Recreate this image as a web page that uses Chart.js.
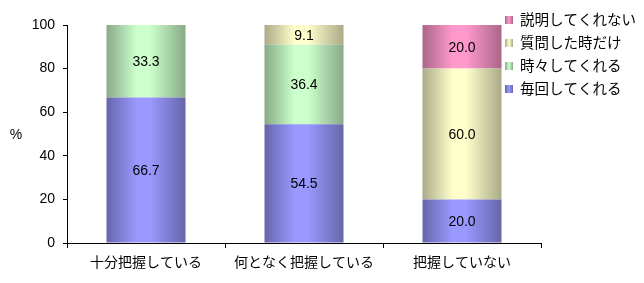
<!DOCTYPE html>
<html>
<head>
<meta charset="utf-8">
<script src="https://cdn.jsdelivr.net/npm/chart.js@4"></script>
<style>
  html, body { margin: 0; padding: 0; background: #fff; }
  #wrap { width: 644px; height: 283px; }
</style>
</head>
<body>
<div id="wrap"><canvas id="c" width="644" height="283"></canvas></div>
<script>
// categories and series (percent)
const categories = ['十分把握している', '何となく把握している', '把握していない'];
const everyTime = [66.7, 54.5, 20.0];      // 毎回してくれる
const sometimes = [33.3, 36.4, 0];         // 時々してくれる
const onlyAsked = [0, 9.1, 60.0];          // 質問した時だけ
const never = [0, 0, 20.0];                // 説明してくれない
const yTicks = [0, 20, 40, 60, 80, 100];

const FONT = '"Liberation Sans", "Noto Sans CJK JP", sans-serif';

// light centre / dark edge for the cylinder-ish shading
const shades = {
  '毎回してくれる': ['#9999ff', '#6666aa'],
  '時々してくれる': ['#ccffcc', '#88aa88'],
  '質問した時だけ': ['#ffffcc', '#aaaa88'],
  '説明してくれない': ['#ff99cc', '#aa6688']
};

function barFill(name) {
  return function (c) {
    const x = c.chart.scales.x;
    const [light, dark] = shades[name];
    if (!x || !isFinite(x.width)) return light;
    const cx = x.getPixelForValue(c.dataIndex);
    const w = x.width / categories.length * 0.5;
    const g = c.chart.ctx.createLinearGradient(cx - w / 2, 0, cx + w / 2, 0);
    g.addColorStop(0, dark);
    g.addColorStop(0.38, light);
    g.addColorStop(0.55, light);
    g.addColorStop(1, dark);
    return g;
  };
}

function ds(label, data) {
  return {
    label: label,
    data: data,
    backgroundColor: barFill(label),
    borderWidth: 0,
    categoryPercentage: 1,
    barPercentage: 0.5
  };
}

// numbers in the middle of each segment, plus "%" and the legend
const extras = {
  id: 'extras',
  afterDatasetsDraw(chart) {
    const ctx = chart.ctx;
    ctx.save();
    ctx.font = '14px ' + FONT;
    ctx.fillStyle = '#000';
    ctx.textAlign = 'center';
    ctx.textBaseline = 'middle';
    chart.data.datasets.forEach((d, i) => {
      chart.getDatasetMeta(i).data.forEach((el, j) => {
        if (!d.data[j]) return;
        ctx.fillText(d.data[j].toFixed(1), el.x, (el.y + el.base) / 2 + 1);
      });
    });
    ctx.restore();
  },
  afterDraw(chart) {
    const ctx = chart.ctx;
    ctx.save();
    ctx.fillStyle = '#000';
    ctx.textBaseline = 'middle';
    ctx.font = '14px ' + FONT;
    ctx.textAlign = 'center';
    ctx.fillText('%', 16, 135);

    ctx.font = '14.5px ' + FONT;
    ctx.textAlign = 'left';
    const items = chart.data.datasets.slice().reverse();
    items.forEach((d, k) => {
      const y = 20 + k * 23;
      const [light, dark] = shades[d.label];
      const g = ctx.createLinearGradient(505, 0, 513, 0);
      g.addColorStop(0, dark);
      g.addColorStop(0.5, light);
      g.addColorStop(1, dark);
      ctx.fillStyle = g;
      ctx.fillRect(505, y - 4, 8, 8);
      ctx.fillStyle = '#000';
      ctx.fillText(d.label, 520, y + 1);
    });
    ctx.restore();
  }
};

new Chart(document.getElementById('c'), {
  type: 'bar',
  data: {
    labels: categories,
    datasets: [
      ds('毎回してくれる', everyTime),
      ds('時々してくれる', sometimes),
      ds('質問した時だけ', onlyAsked),
      ds('説明してくれない', never)
    ]
  },
  options: {
    responsive: false,
    devicePixelRatio: 1,
    animation: false,
    layout: { padding: { top: 25, right: 103, bottom: 0, left: 0 } },
    plugins: {
      legend: { display: false },
      tooltip: { enabled: false }
    },
    scales: {
      x: {
        stacked: true,
        afterFit: s => { s.height = 40; },
        grid: {
          offset: true,
          drawOnChartArea: false,
          tickLength: 5,
          color: '#000'
        },
        border: { color: '#000', width: 1 },
        ticks: { color: '#000', font: { size: 14, family: FONT }, padding: 7 }
      },
      y: {
        stacked: true,
        min: 0,
        max: 100,
        afterFit: s => { s.width = 67; },
        afterBuildTicks: s => { s.ticks = yTicks.map(v => ({ value: v })); },
        grid: {
          drawOnChartArea: false,
          tickLength: 4,
          color: '#000'
        },
        border: { color: '#000', width: 1 },
        ticks: { color: '#000', font: { size: 14, family: FONT }, padding: 8 }
      }
    }
  },
  plugins: [extras]
});
</script>
</body>
</html>
